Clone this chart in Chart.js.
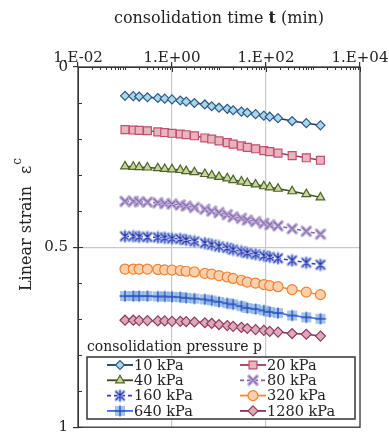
<!DOCTYPE html>
<html>
<head>
<meta charset="utf-8">
<script src="https://cdn.jsdelivr.net/npm/chart.js"></script>
<style>
  html, body { margin: 0; padding: 0; background: #fff; }
  #wrap { width: 389px; height: 434px; }
</style>
</head>
<body>
<div id="wrap"><canvas id="chart" width="389" height="434"></canvas></div>
<script>
// consolidation time readings (min)
const times = [0.1, 0.15, 0.2, 0.3, 0.5, 0.7, 1, 1.5, 2, 3, 5, 7, 10, 15, 20, 30, 40, 60, 90, 120, 180, 360, 720, 1440];

const pressureLabels = ['10 kPa', '20 kPa', '40 kPa', '80 kPa', '160 kPa', '320 kPa', '640 kPa', '1280 kPa'];

// linear strain, one array per load step
const strain10 = [0.080, 0.081, 0.082, 0.084, 0.086, 0.088, 0.090, 0.093, 0.096, 0.100, 0.104, 0.109,
  0.113, 0.116, 0.120, 0.124, 0.127, 0.131, 0.135, 0.138, 0.142, 0.150, 0.156, 0.162];
const strain20 = [0.174, 0.175, 0.176, 0.177, 0.180, 0.182, 0.184, 0.186, 0.188, 0.191, 0.197, 0.200,
  0.205, 0.210, 0.214, 0.219, 0.223, 0.227, 0.232, 0.235, 0.239, 0.246, 0.252, 0.259];
const strain40 = [0.276, 0.277, 0.278, 0.279, 0.281, 0.283, 0.284, 0.286, 0.289, 0.292, 0.297, 0.301,
  0.305, 0.309, 0.314, 0.318, 0.322, 0.326, 0.331, 0.334, 0.338, 0.345, 0.353, 0.362];
const strain80 = [0.373, 0.373, 0.374, 0.375, 0.377, 0.379, 0.380, 0.383, 0.386, 0.390, 0.395, 0.400,
  0.404, 0.410, 0.416, 0.420, 0.425, 0.429, 0.434, 0.438, 0.441, 0.449, 0.456, 0.464];
const strain160 = [0.470, 0.470, 0.471, 0.472, 0.473, 0.474, 0.476, 0.477, 0.480, 0.484, 0.489, 0.493,
  0.498, 0.502, 0.507, 0.512, 0.516, 0.520, 0.524, 0.527, 0.531, 0.537, 0.543, 0.549];
const strain320 = [0.561, 0.561, 0.561, 0.561, 0.562, 0.563, 0.564, 0.565, 0.567, 0.569, 0.573, 0.575,
  0.579, 0.583, 0.587, 0.592, 0.597, 0.600, 0.604, 0.607, 0.610, 0.618, 0.625, 0.632];
const strain640 = [0.636, 0.636, 0.636, 0.636, 0.637, 0.637, 0.638, 0.639, 0.641, 0.643, 0.645, 0.648,
  0.652, 0.656, 0.659, 0.664, 0.669, 0.672, 0.676, 0.680, 0.683, 0.690, 0.695, 0.699];
const strain1280 = [0.703, 0.703, 0.704, 0.704, 0.705, 0.705, 0.706, 0.706, 0.707, 0.708, 0.710, 0.712,
  0.715, 0.718, 0.720, 0.723, 0.726, 0.729, 0.731, 0.734, 0.736, 0.740, 0.742, 0.747];

const strainSets = [strain10, strain20, strain40, strain80, strain160, strain320, strain640, strain1280];

const serif = "'DejaVu Serif', 'Liberation Serif', serif";
Chart.defaults.font.family = serif;
Chart.defaults.color = '#222';

// small canvases for the markers Chart.js has no style for
function markerCanvas(size, draw) {
  const c = document.createElement('canvas');
  c.width = size;
  c.height = size;
  draw(c.getContext('2d'), size / 2);
  return c;
}

function strokeArms(g, arms, color, width) {
  g.strokeStyle = color;
  g.lineWidth = width;
  g.lineCap = 'round';
  g.beginPath();
  arms.forEach(a => { g.moveTo(a[0], a[1]); g.lineTo(a[2], a[3]); });
  g.stroke();
}

const xMark = markerCanvas(14, (g, m) => {
  const arms = [[m - 4, m - 4, m + 4, m + 4], [m + 4, m - 4, m - 4, m + 4]];
  strokeArms(g, arms, 'rgba(190,172,216,0.9)', 3.8);
  strokeArms(g, arms, '#7b62a8', 1.1);
});

const starMark = markerCanvas(14, (g, m) => {
  const arms = [[m - 4, m - 4, m + 4, m + 4], [m + 4, m - 4, m - 4, m + 4], [m, m - 5, m, m + 5]];
  strokeArms(g, arms, 'rgba(170,196,232,0.9)', 3.4);
  strokeArms(g, arms, '#2b2fae', 1.2);
});

const plusMark = markerCanvas(14, (g, m) => {
  g.fillStyle = 'rgba(132,176,228,0.75)';
  g.fillRect(m - 5, m - 5, 10, 10);
  strokeArms(g, [[m - 5, m, m + 5, m], [m, m - 5, m, m + 5]], '#2d4fb8', 1.4);
});

const seriesStyle = [
  { line: '#1f3b6a', bg: '#a9d6e8', border: '#2e5a8a', point: 'rectRot', r: 4.5 },
  { line: '#a03a64', bg: '#e9b5bd', border: '#c04f72', point: 'rect', r: 5.6 },
  { line: '#3b4a1c', bg: '#c6d89c', border: '#4f6228', point: 'triangle', r: 5 },
  { line: '#8064a2', bg: '#ccc0da', border: '#8064a2', point: xMark, r: 5, dash: [4, 3] },
  { line: '#3a3ab8', bg: '#b8cce4', border: '#2b2fae', point: starMark, r: 5, dash: [4, 3] },
  { line: '#f58a3a', bg: '#fcd0ac', border: '#f08030', point: 'circle', r: 5 },
  { line: '#3a6ee8', bg: '#9dc3e6', border: '#2d4fb8', point: plusMark, r: 5 },
  { line: '#8b2f5a', bg: '#dfaab8', border: '#8e3b62', point: 'rectRot', r: 5 }
];

const datasets = strainSets.map((vals, i) => {
  const s = seriesStyle[i];
  return {
    label: pressureLabels[i],
    data: times.map((t, k) => ({ x: t, y: vals[k] })),
    showLine: true,
    borderColor: s.line,
    borderWidth: 1.5,
    borderDash: s.dash || [],
    pointStyle: s.point,
    pointRadius: s.r,
    pointBackgroundColor: s.bg,
    pointBorderColor: s.border,
    pointBorderWidth: 1.2
  };
});

function isLabelDecade(v) {
  const e = Math.log10(v);
  return Math.abs(e - Math.round(e)) < 1e-6 && Math.round(e) % 2 === 0;
}
function isLabelStrain(v) {
  return [0, 0.5, 1].some(m => Math.abs(v - m) < 1e-6);
}

// inward minor ticks, frame, axis titles and the boxed legend
const extras = {
  id: 'extras',
  afterDraw(chart) {
    const { ctx, chartArea: a, scales: { x, y } } = chart;
    ctx.save();
    ctx.strokeStyle = '#333';
    ctx.lineWidth = 1;
    ctx.beginPath();
    x.ticks.forEach(t => {
      const px = Math.round(x.getPixelForValue(t.value)) + 0.5;
      const len = isLabelDecade(t.value) ? 5 : 3;
      ctx.moveTo(px, a.top);
      ctx.lineTo(px, a.top + len);
    });
    y.ticks.forEach(t => {
      const py = Math.round(y.getPixelForValue(t.value)) + 0.5;
      const len = isLabelStrain(t.value) ? 5 : 4;
      ctx.moveTo(a.left, py);
      ctx.lineTo(a.left + len, py);
    });
    ctx.stroke();
    ctx.lineWidth = 1.3;
    ctx.strokeRect(a.left, a.top, a.right - a.left, a.bottom - a.top);

    // top axis title with bold t
    ctx.fillStyle = '#222';
    ctx.textBaseline = 'middle';
    const parts = [['consolidation time ', '16px ' + serif], ['t', 'bold 16px ' + serif], [' (min)', '16px ' + serif]];
    let total = 0;
    parts.forEach(p => { ctx.font = p[1]; total += ctx.measureText(p[0]).width; });
    let tx = (a.left + a.right) / 2 - total / 2;
    ctx.textAlign = 'left';
    parts.forEach(p => { ctx.font = p[1]; ctx.fillText(p[0], tx, 19); tx += ctx.measureText(p[0]).width; });

    // left axis title, rotated
    ctx.save();
    ctx.translate(27, 291);
    ctx.rotate(-Math.PI / 2);
    ctx.font = '16px ' + serif;
    ctx.textAlign = 'left';
    ctx.fillText('Linear strain', 0, 0);
    let w = ctx.measureText('Linear strain').width + 12;
    ctx.fillText('\u03b5', w, 0);
    w += ctx.measureText('\u03b5').width + 1;
    ctx.font = '12px ' + serif;
    ctx.fillText('c', w, -9);
    ctx.restore();

    // legend
    const lx = 87, ly = 357, lw = 268, lh = 62;
    ctx.font = '14px ' + serif;
    ctx.textAlign = 'left';
    ctx.fillText('consolidation pressure p', lx, 347);
    ctx.fillStyle = '#fff';
    ctx.fillRect(lx, ly, lw, lh);
    ctx.strokeStyle = '#333';
    ctx.lineWidth = 1.5;
    ctx.strokeRect(lx, ly, lw, lh);
    chart.data.datasets.forEach((ds, i) => {
      const col = i % 2, row = Math.floor(i / 2);
      const x0 = col === 0 ? 107 : 240;
      const yy = ly + 8 + row * 15.3;
      ctx.save();
      ctx.strokeStyle = ds.borderColor;
      ctx.lineWidth = 1.8;
      ctx.setLineDash(ds.borderDash);
      ctx.beginPath();
      ctx.moveTo(x0, yy);
      ctx.lineTo(x0 + 26, yy);
      ctx.stroke();
      ctx.setLineDash([]);
      ctx.fillStyle = ds.pointBackgroundColor;
      ctx.strokeStyle = ds.pointBorderColor;
      ctx.lineWidth = ds.pointBorderWidth;
      Chart.helpers.drawPoint(ctx, { pointStyle: ds.pointStyle, radius: ds.pointRadius, rotation: 0, borderWidth: ds.pointBorderWidth }, x0 + 13, yy);
      ctx.restore();
      ctx.fillStyle = '#222';
      ctx.font = '14.5px ' + serif;
      ctx.textBaseline = 'middle';
      ctx.fillText(ds.label, x0 + 27, yy + 1);
    });
    ctx.restore();
  }
};

new Chart(document.getElementById('chart'), {
  type: 'scatter',
  data: { datasets },
  options: {
    responsive: false,
    animation: false,
    devicePixelRatio: 1,
    layout: { padding: { left: 0, top: 0, right: 29, bottom: 6 } },
    plugins: { legend: { display: false }, tooltip: { enabled: false } },
    scales: {
      x: {
        type: 'logarithmic',
        position: 'top',
        min: 0.01,
        max: 10000,
        afterBuildTicks(axis) {
          const ticks = [];
          for (let e = -2; e <= 4; e++) {
            for (let m = 1; m <= 9; m++) {
              const v = m * Math.pow(10, e);
              if (v > 10000.0001) break;
              ticks.push({ value: v });
            }
          }
          axis.ticks = ticks;
        },
        afterFit(axis) {
          axis.height = 67;
          axis.paddingLeft = 0;
          axis.paddingRight = 0;
        },
        ticks: {
          autoSkip: false,
          maxRotation: 0,
          padding: -5,
          font: { size: 15 },
          color: '#222',
          callback(v) {
            if (!isLabelDecade(v)) return '';
            const e = Math.round(Math.log10(v));
            const s = String(Math.abs(e)).padStart(2, '0');
            return '1.E' + (e < 0 ? '-' : '+') + s;
          }
        },
        grid: {
          color: c => (c.tick && isLabelDecade(c.tick.value) && c.tick.value > 0.02 && c.tick.value < 5000) ? '#c8c8c8' : 'rgba(0,0,0,0)',
          tickColor: c => (c.tick && isLabelDecade(c.tick.value)) ? '#333' : 'rgba(0,0,0,0)',
          tickLength: 5,
          lineWidth: 1.2
        },
        border: { display: true, color: '#333' }
      },
      y: {
        min: 0,
        max: 1,
        reverse: true,
        afterFit(axis) {
          axis.width = 78;
          axis.paddingTop = 0;
          axis.paddingBottom = 0;
        },
        ticks: {
          stepSize: 0.1,
          padding: 5,
          font: { size: 15 },
          color: '#222',
          callback(v) { return isLabelStrain(v) ? String(Math.round(v * 10) / 10) : ''; }
        },
        grid: {
          color: c => (c.tick && Math.abs(c.tick.value - 0.5) < 1e-6) ? '#c8c8c8' : 'rgba(0,0,0,0)',
          tickColor: c => (c.tick && isLabelStrain(c.tick.value)) ? '#333' : 'rgba(0,0,0,0)',
          tickLength: 5,
          lineWidth: 1.2
        },
        border: { display: true, color: '#333' }
      }
    }
  },
  plugins: [extras]
});
</script>
</body>
</html>
